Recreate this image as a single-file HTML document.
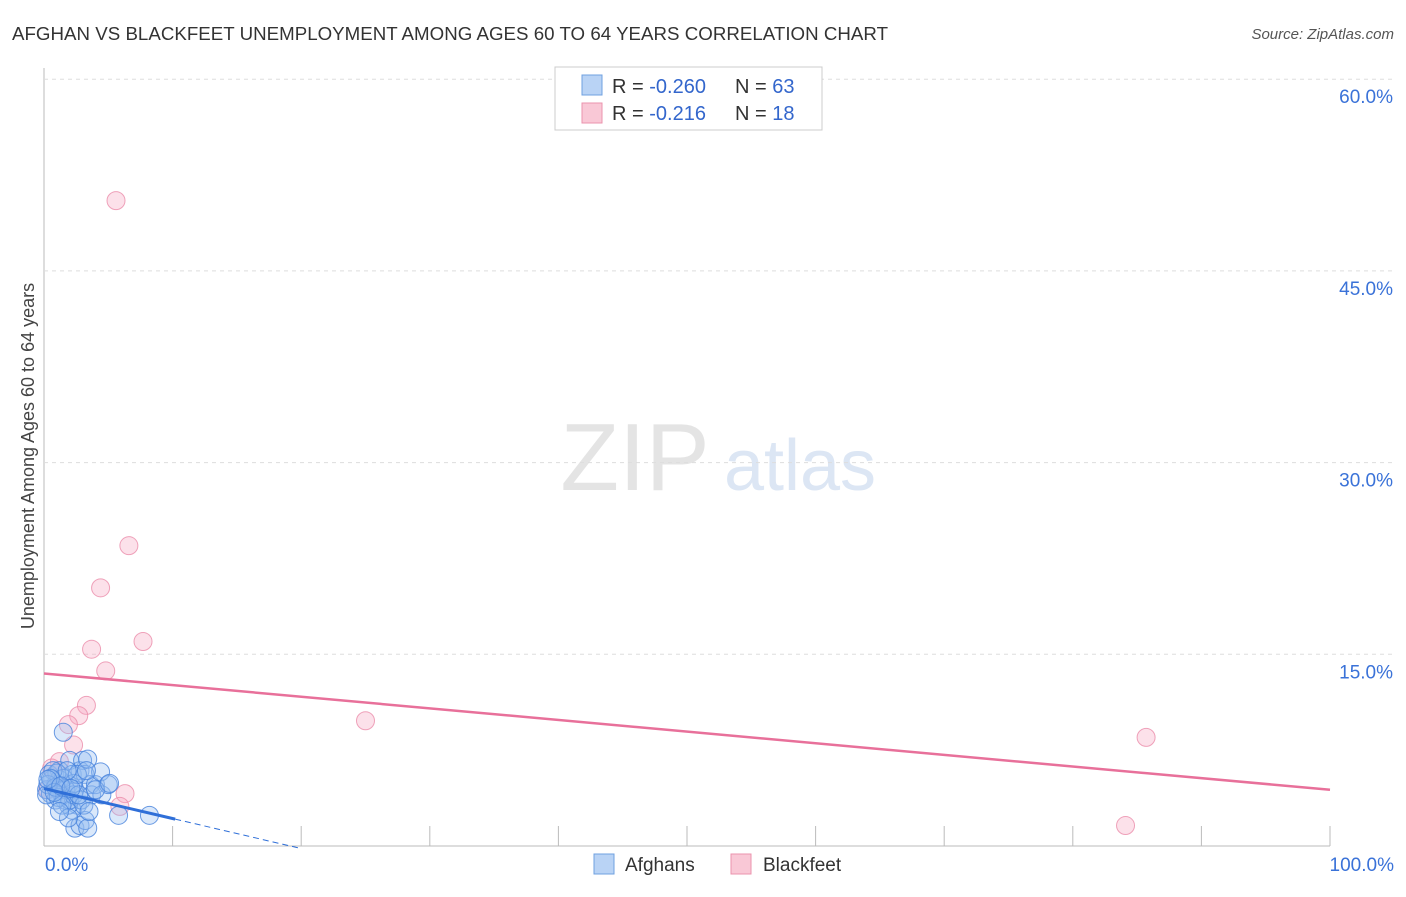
<!DOCTYPE html>
<html><head><meta charset="utf-8"><style>
body{margin:0;background:#fff;font-family:"Liberation Sans",sans-serif;}
svg text{font-family:"Liberation Sans",sans-serif;}
</style></head><body>
<svg id="c" width="1406" height="892">
<text x="12" y="40" font-size="18.7" fill="#333" textLength="876">AFGHAN VS BLACKFEET UNEMPLOYMENT AMONG AGES 60 TO 64 YEARS CORRELATION CHART</text>
<text x="1394" y="39" font-size="15" fill="#555" font-style="italic" text-anchor="end">Source: ZipAtlas.com</text>
<text x="34" y="456" font-size="18" fill="#444" text-anchor="middle" transform="rotate(-90 34 456)">Unemployment Among Ages 60 to 64 years</text>
<g><text x="635" y="490" font-size="96" fill="#e4e4e4" font-family="Liberation Serif" text-anchor="middle">ZIP</text><text x="800" y="490" font-size="72" fill="#dce6f4" text-anchor="middle">atlas</text></g>
<g id="grid"></g><g id="pts"></g><g id="lines"></g>
<g>
<rect x="555" y="67" width="267" height="63" fill="#fff" stroke="#ccc"/>
<rect x="582" y="75" width="20" height="20" fill="#b9d3f5" stroke="#6fa0e0"/>
<rect x="582" y="103" width="20" height="20" fill="#f9c8d6" stroke="#eb93ad"/>
<text x="612" y="93" font-size="20" fill="#333">R = <tspan fill="#3366cc">-0.260</tspan></text>
<text x="735" y="93" font-size="20" fill="#333">N = <tspan fill="#3366cc">63</tspan></text>
<text x="612" y="120" font-size="20" fill="#333">R =  <tspan fill="#3366cc">-0.216</tspan></text>
<text x="735" y="120" font-size="20" fill="#333">N =  <tspan fill="#3366cc">18</tspan></text>
</g>
<g>
<rect x="594" y="854" width="20" height="20" fill="#b9d3f5" stroke="#6fa0e0"/>
<text x="625" y="871" font-size="19" fill="#333">Afghans</text>
<rect x="731" y="854" width="20" height="20" fill="#f9c8d6" stroke="#eb93ad"/>
<text x="763" y="871" font-size="19" fill="#333">Blackfeet</text>
</g>
</svg>
<script>
const yTicks=[15,30,45,60];
const yTickLabels=["15.0%","30.0%","45.0%","60.0%"];
const xTickLabels=["0.0%","100.0%"];
const afghanX=[1.5,0.4,0.6,0.9,0.2,0.5,1.1,1.2,1.4,1.6,1.9,2.0,2.2,2.4,2.6,2.8,3.0,3.2,3.4,3.6,3.7,4.0,4.4,4.5,5.0,5.8,8.2,2.4,2.8,3.2,2.2,1.9,3.4,1.2,0.9,1.0,1.7,2.0,2.3,2.9,1.5,0.7,0.3,0.2,1.1,1.4,2.3,2.6,3.3,4.0,5.1,3.1,0.9,0.5,1.8,2.7,1.9,1.2,3.5,0.8,0.3,1.3,2.1];
const afghanY=[8.9,5.6,5.2,4.8,4.4,4.1,4.4,5.9,4.0,3.6,4.8,6.7,5.6,4.4,3.2,5.9,6.7,5.6,6.8,4.8,4.0,4.8,5.8,4.0,4.8,2.4,2.4,1.4,1.6,2.0,2.8,3.2,1.4,5.2,3.6,5.7,4.4,3.6,4.0,3.6,5.3,5.9,4.8,4.0,3.8,3.2,4.9,5.6,5.9,4.4,4.9,3.2,4.6,5.3,5.9,4.0,2.2,2.7,2.7,4.2,5.2,4.7,4.5];
const bfX=[5.6,6.6,4.4,7.7,3.7,4.8,3.3,2.7,1.9,2.3,1.2,0.6,0.3,6.3,5.9,25.0,85.7,84.1];
const bfY=[50.5,23.5,20.2,16.0,15.4,13.7,11.0,10.2,9.5,7.9,6.6,6.1,4.4,4.1,3.1,9.8,8.5,1.6];
const bfTrend=[13.5,4.4];
const afTrend=[4.5,-0.2];
const X=v=>44+v*12.86, Y=v=>846-v*12.78;
const NS="http://www.w3.org/2000/svg";
function mk(t,a,p){const e=document.createElementNS(NS,t);for(const k in a)e.setAttribute(k,a[k]);p.appendChild(e);return e;}
const g=document.getElementById('grid');
let ax=mk('line',{x1:44,y1:68,x2:44,y2:846,stroke:'#bbb'},g);


let bx=mk('line',{x1:44,y1:846,x2:1330,y2:846,stroke:'#bbb'},g);


yTicks.forEach((v,i)=>{
 const l=mk('line',{x1:44,x2:1394,y1:Y(v),y2:Y(v),stroke:'#ddd','stroke-dasharray':'4,4'},g);
 
 
 const t=mk('text',{x:1393,y:Y(v)+24,'font-size':19,fill:'#3a72d8','text-anchor':'end'},g);t.textContent=yTickLabels[i];
 
 
});
for(let i=1;i<=10;i++){const l=mk('line',{x1:X(i*10),x2:X(i*10),y1:826,y2:846,stroke:'#bbb'},g);
 
 }
[[0,'start',45],[100,'end',1394]].forEach((d,i)=>{const t=mk('text',{x:d[2],y:871,'font-size':19,fill:'#3a72d8','text-anchor':d[1]},g);t.textContent=xTickLabels[i];
 
 });
const p=document.getElementById('pts');
bfX.forEach((x,i)=>{const c=mk('circle',{cx:X(x),cy:Y(bfY[i]),r:9,fill:'rgba(246,170,195,0.35)',stroke:'rgba(235,140,170,0.8)'},p);
 
 });
afghanX.forEach((x,i)=>{const c=mk('circle',{cx:X(x),cy:Y(afghanY[i]),r:9,fill:'rgba(150,190,240,0.35)',stroke:'rgba(70,130,220,0.8)'},p);
 
 });
const L=document.getElementById('lines');
let pl=mk('line',{x1:X(0),y1:Y(bfTrend[0]),x2:X(100),y2:Y(bfTrend[1]),stroke:'#e8709a','stroke-width':2.5},L);


const af=x=>afTrend[0]+(afTrend[1]-afTrend[0])*x/20;
let al=mk('line',{x1:X(0),y1:Y(af(0)),x2:X(10.2),y2:Y(af(10.2)),stroke:'#2f6fd8','stroke-width':3},L);


let ad=mk('line',{x1:X(10.2),y1:Y(af(10.2)),x2:X(20),y2:Y(af(20)),stroke:'#2f6fd8','stroke-width':1,'stroke-dasharray':'6,4'},L);


</script>
</body></html>
